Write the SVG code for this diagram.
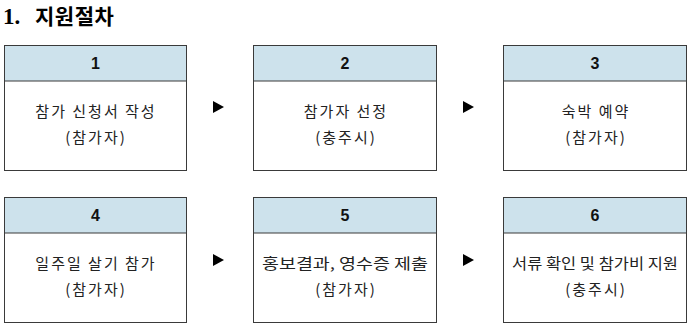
<svg xmlns="http://www.w3.org/2000/svg" width="690" height="323" viewBox="0 0 690 323">
<style>
.box{fill:#fff;stroke:#3a3a3a;stroke-width:1}
.hd{fill:#cde2ec;stroke:#3a3a3a;stroke-width:1}
.num{font-family:"Liberation Sans","Noto Sans CJK KR",sans-serif;font-weight:bold;font-size:16px;fill:#111;text-anchor:middle}
.txt{font-family:"Noto Sans CJK KR","Liberation Serif",serif;font-size:15px;fill:#222;text-anchor:middle;letter-spacing:2px}
.title{font-family:"Noto Sans CJK KR","Liberation Sans",sans-serif;font-weight:bold;font-size:21px;fill:#000}
.arr{fill:#000}
</style>
<rect width="690" height="323" fill="#fff"/>
<text class="title" x="3" y="24" style="font-family:'Liberation Serif',serif;font-size:23px">1.</text>
<text class="title" x="35" y="24" style="letter-spacing:0.5px">지원절차</text>

<g id="node1">
<rect class="box" x="4.5" y="45.5" width="182" height="125"/>
<rect class="hd" x="4.5" y="45.5" width="182" height="35.5"/>
<text class="num" x="95.5" y="69">1</text>
<text class="txt" x="96" y="117">참가 신청서 작성</text>
<text class="txt" x="96" y="143">(참가자)</text>
</g>
<g id="node2">
<rect class="box" x="253.5" y="45.5" width="183" height="125"/>
<rect class="hd" x="253.5" y="45.5" width="183" height="35.5"/>
<text class="num" x="345" y="69">2</text>
<text class="txt" x="346" y="117">참가자 선정</text>
<text class="txt" x="346" y="143">(충주시)</text>
</g>
<g id="node3">
<rect class="box" x="503.5" y="45.5" width="183" height="125"/>
<rect class="hd" x="503.5" y="45.5" width="183" height="35.5"/>
<text class="num" x="595" y="69">3</text>
<text class="txt" x="596" y="117">숙박 예약</text>
<text class="txt" x="596" y="143">(참가자)</text>
</g>
<g id="node4">
<rect class="box" x="4.5" y="197.5" width="182" height="125"/>
<rect class="hd" x="4.5" y="197.5" width="182" height="35.5"/>
<text class="num" x="95.5" y="221">4</text>
<text class="txt" x="96" y="269">일주일 살기 참가</text>
<text class="txt" x="96" y="295">(참가자)</text>
</g>
<g id="node5">
<rect class="box" x="253.5" y="197.5" width="183" height="125"/>
<rect class="hd" x="253.5" y="197.5" width="183" height="35.5"/>
<text class="num" x="345" y="221">5</text>
<text class="txt" x="345" y="269" style="letter-spacing:0;font-size:14.5px" textLength="166" lengthAdjust="spacingAndGlyphs">홍보결과, 영수증 제출</text>
<text class="txt" x="346" y="295">(참가자)</text>
</g>
<g id="node6">
<rect class="box" x="503.5" y="197.5" width="183" height="125"/>
<rect class="hd" x="503.5" y="197.5" width="183" height="35.5"/>
<text class="num" x="595" y="221">6</text>
<text class="txt" x="595" y="269" style="letter-spacing:0;font-size:14.5px" textLength="166" lengthAdjust="spacingAndGlyphs">서류 확인 및 참가비 지원</text>
<text class="txt" x="596" y="295">(충주시)</text>
</g>

<g id="connectors">
<polygon class="arr" points="213,101 224,107 213,113"/>
<polygon class="arr" points="463,101 474,107 463,113"/>
<polygon class="arr" points="213,254 224,260 213,266"/>
<polygon class="arr" points="463,254 474,260 463,266"/>
</g>
</svg>
